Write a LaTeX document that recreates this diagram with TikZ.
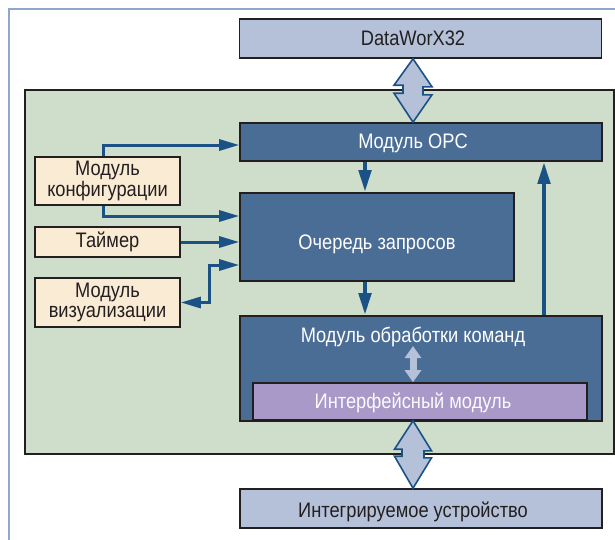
\documentclass[tikz,border=0pt]{standalone}
\usepackage{fontspec}
\setmainfont{Liberation Sans}[FakeStretch=0.87]
\usetikzlibrary{arrows.meta}
\definecolor{framebl}{HTML}{8FA7CC}
\definecolor{lightbl}{HTML}{B4C1D9}
\definecolor{greenbg}{HTML}{CFDDCB}
\definecolor{darkbl}{HTML}{4A6D96}
\definecolor{cream}{HTML}{FAEBD5}
\definecolor{lilac}{HTML}{A999C8}
\definecolor{arrowbl}{HTML}{1B5286}
\definecolor{edge}{HTML}{231F20}
\tikzstyle{lightbox} = [draw=edge, line width=1.6pt, fill=lightbl, minimum width=362pt, minimum height=39pt]
\tikzstyle{darkbox} = [draw=edge, line width=1.6pt, fill=darkbl]
\tikzstyle{sidebox} = [draw=edge, line width=1.6pt, fill=cream, text=edge, align=center, minimum width=145pt, inner sep=0pt, font=\fontsize{21}{19.5}\selectfont]
\tikzstyle{boxtext} = [anchor=base, inner sep=0pt]
\tikzstyle{flow} = [draw=arrowbl, line width=3pt, -{Triangle[length=20pt,width=11pt]}]
\tikzstyle{vflow} = [draw=arrowbl, line width=4.5pt, -{Triangle[length=22pt,width=12pt]}]
\tikzstyle{bigflow} = [draw=arrowbl, line width=1.6pt, fill=lightbl, line join=miter]
\tikzstyle{smallflow} = [draw=lightbl, line width=7pt, {Triangle[length=12pt,width=16pt]}-{Triangle[length=12pt,width=16pt]}]

\begin{document}
\begin{tikzpicture}[x=1pt, y=-1pt, every node/.style={font=\fontsize{21}{18}\selectfont}]
    \useasboundingbox (0,0) rectangle (615,539);
    \clip (0,0) rectangle (615,539);
    \draw[framebl, line width=2.5pt] (9,9) rectangle (640,560);
    \node[draw=edge, line width=2.4pt, fill=greenbg, minimum width=589pt, minimum height=364pt](core) at (319.5,272){};
    % boxes
    \node[lightbox](dwx) at (420.5,38.5){};
    \node[darkbox, minimum width=362pt, minimum height=38pt](opc) at (421,142){};
    \node[darkbox, minimum width=274pt, minimum height=88pt](que) at (377,237){};
    \node[darkbox, minimum width=362pt, minimum height=105pt](cmd) at (421,368.5){};
    \node[draw=edge, line width=1.6pt, fill=lilac, minimum width=334pt, minimum height=37pt](ifm) at (420,401.5){};
    \node[lightbox](dev) at (421,508.5){};
    \node[sidebox, minimum height=48pt](cfg) at (107.5,181){Модуль\\конфигурации};
    \node[sidebox, minimum height=30pt](tmr) at (107.5,242){Таймер};
    \node[sidebox, minimum height=49pt](viz) at (107.5,302.5){Модуль\\визуализации};
    % texts
    \node[boxtext, text=edge](dwxlbl) at (413,45){DataWorX32};
    \node[boxtext, text=white](opclbl) at (413,148){Модуль OPC};
    \node[boxtext, text=white](quelbl) at (377,249){Очередь запросов};
    \node[boxtext, text=white](cmdlbl) at (413,342){Модуль обработки команд};
    \node[boxtext, text=white!94!lilac](ifmlbl) at (413,408){Интерфейсный модуль};
    \node[boxtext, text=edge](devlbl) at (413,517){Интегрируемое устройство};
    % connectors
    \coordinate(ax) at (413,0);
    \coordinate(qx) at (365,0);
    \coordinate(ux) at (544,0);
    \draw[flow]([xshift=-4.5pt]cfg.north) |- ([yshift=-3pt]opc.west);
    \draw[flow]([xshift=-4.5pt]cfg.south) |- ([yshift=21pt]que.west);
    \draw[flow](tmr.east) -- (tmr.east -| que.west);
    \draw[flow, {Triangle[length=20pt,width=11pt]}-{Triangle[length=20pt,width=11pt]}]([yshift=-28pt]que.west) -- ++(-30,0) |- (viz.east);
    \draw[vflow](opc.south -| qx) -- (que.north -| qx);
    \draw[vflow](que.south -| qx) -- (cmd.north -| qx);
    \draw[vflow](cmd.north -| ux) -- (opc.south -| ux);
    \draw[smallflow](ifm.north -| ax) -- ([yshift=-4pt]cmdlbl.base);
    \draw[bigflow](dwx.south -| ax) -- ++(19,28) -- ++(-9,0) -- ++(0,8) -- ++(9,0) -- (opc.north -| ax)
        -- ++(-19,-29) -- ++(9,0) -- ++(0,-8) -- ++(-9,0) -- cycle;
    \draw[bigflow](ifm.south -| ax) -- ++(18.5,30) -- ++(-7.5,0) -- ++(0,7) -- ++(7.5,0) -- (dev.north -| ax)
        -- ++(-18.5,-32) -- ++(7.5,0) -- ++(0,-7) -- ++(-7.5,0) -- cycle;
\end{tikzpicture}
\end{document}
